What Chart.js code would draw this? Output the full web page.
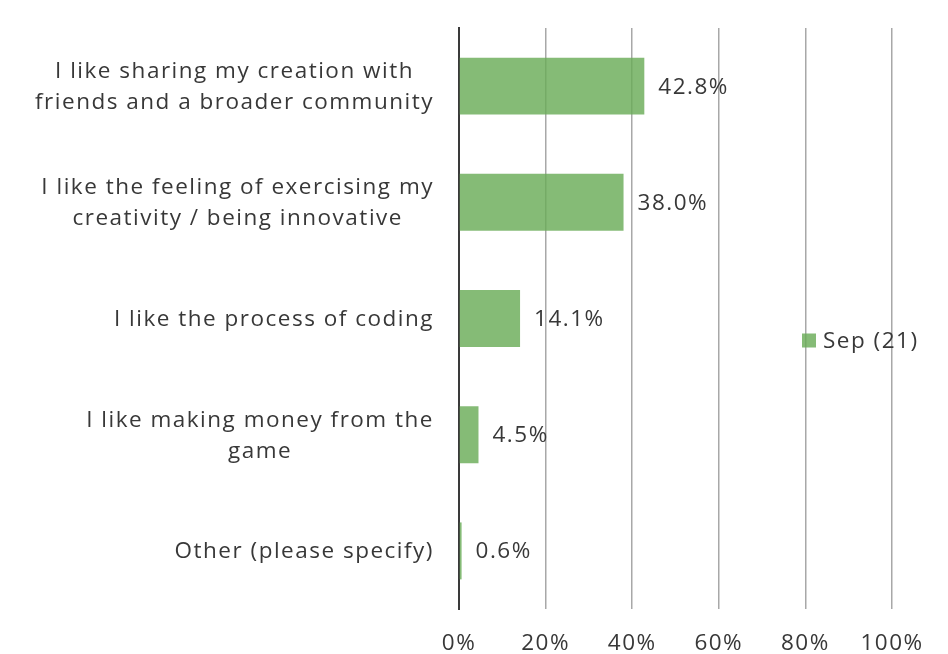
<!DOCTYPE html>
<html><head><meta charset="utf-8">
<script src="https://cdn.jsdelivr.net/npm/chart.js@4/dist/chart.umd.min.js"></script>
<style>html,body{margin:0;padding:0;background:#fff}#wrap{width:948px;height:654px}</style>
</head><body><div id="wrap"><canvas id="c" width="948" height="654"></canvas></div>
<script>
const categories = [
  ["I like sharing my creation with", "friends and a broader community"],
  ["I like the feeling of exercising my", "creativity / being innovative"],
  ["I like the process of coding"],
  ["I like making money from the", "game"],
  ["Other (please specify)"]
];
const seriesName = "Sep (21)";
const values = [42.8, 38.0, 14.1, 4.5, 0.6];
const xTicks = [0, 20, 40, 60, 80, 100];

const FONT = "'Open Sans', 'Noto Sans', sans-serif";
const FSIZE = 22.5;
const LSPACE = "1.5px";
const TXT = "#383838";
const BAR = "rgba(106,172,88,0.82)";

const textPlugin = {
  id: 'texts',
  afterDatasetsDraw(chart) {
    const ctx = chart.ctx;
    const meta = chart.getDatasetMeta(0);
    const xs = chart.scales.x, ys = chart.scales.y;
    const ca = chart.chartArea;
    ctx.save();
    ctx.font = FSIZE + "px " + FONT;
    ctx.letterSpacing = LSPACE;
    ctx.fillStyle = TXT;
    ctx.textBaseline = 'middle';
    // value labels
    ctx.textAlign = 'left';
    meta.data.forEach((bar, i) => {
      ctx.fillText(values[i].toFixed(1) + "%", bar.x + 14, bar.y + 1);
    });
    // category labels: block right-aligned, lines centred
    const lineH = 31;
    categories.forEach((lines, i) => {
      const cy = ys.getPixelForValue(i);
      const w = Math.max(...lines.map(l => ctx.measureText(l).width));
      const cx = ca.left - 25 - w / 2;
      ctx.textAlign = 'center';
      lines.forEach((l, j) => {
        const y = cy + (j - (lines.length - 1) / 2) * lineH + 1;
        ctx.fillText(l, cx, y);
      });
    });
    // x tick labels
    ctx.textAlign = 'center';
    xTicks.forEach(v => {
      ctx.fillText(v + "%", xs.getPixelForValue(v), ca.bottom + 35);
    });
    // legend
    const ly = (ca.top + ca.bottom) / 2 + 22;
    ctx.fillStyle = BAR;
    ctx.fillRect(802, ly - 7, 14, 14);
    ctx.fillStyle = TXT;
    ctx.textAlign = 'left';
    ctx.fillText(seriesName, 823, ly + 1);
    ctx.restore();
  }
};

new Chart(document.getElementById('c'), {
  type: 'bar',
  data: {
    labels: categories,
    datasets: [{ label: seriesName, data: values, backgroundColor: BAR, borderWidth: 0,
      categoryPercentage: 1.0, barPercentage: 0.49 }]
  },
  options: {
    indexAxis: 'y',
    responsive: false,
    animation: false,
    layout: { padding: { top: 28, right: 56, left: 0, bottom: 0 } },
    plugins: { legend: { display: false }, tooltip: { enabled: false } },
    scales: {
      x: {
        min: 0, max: 100,
        afterBuildTicks: (s) => { s.ticks = xTicks.map(v => ({ value: v })); },
        afterFit: (s) => { s.height = 45; },
        grid: { drawTicks: false, lineWidth: 1.5,
          color: (c) => c.tick && c.tick.value === 0 ? '#3a3a3a' : '#a8a8a8' },
        border: { display: false },
        ticks: { display: false }
      },
      y: {
        afterFit: (s) => { s.width = 459; },
        grid: { display: false, drawTicks: false },
        border: { display: true, color: '#3a3a3a', width: 2 },
        ticks: { display: false }
      }
    }
  },
  plugins: [textPlugin]
});
</script></body></html>
